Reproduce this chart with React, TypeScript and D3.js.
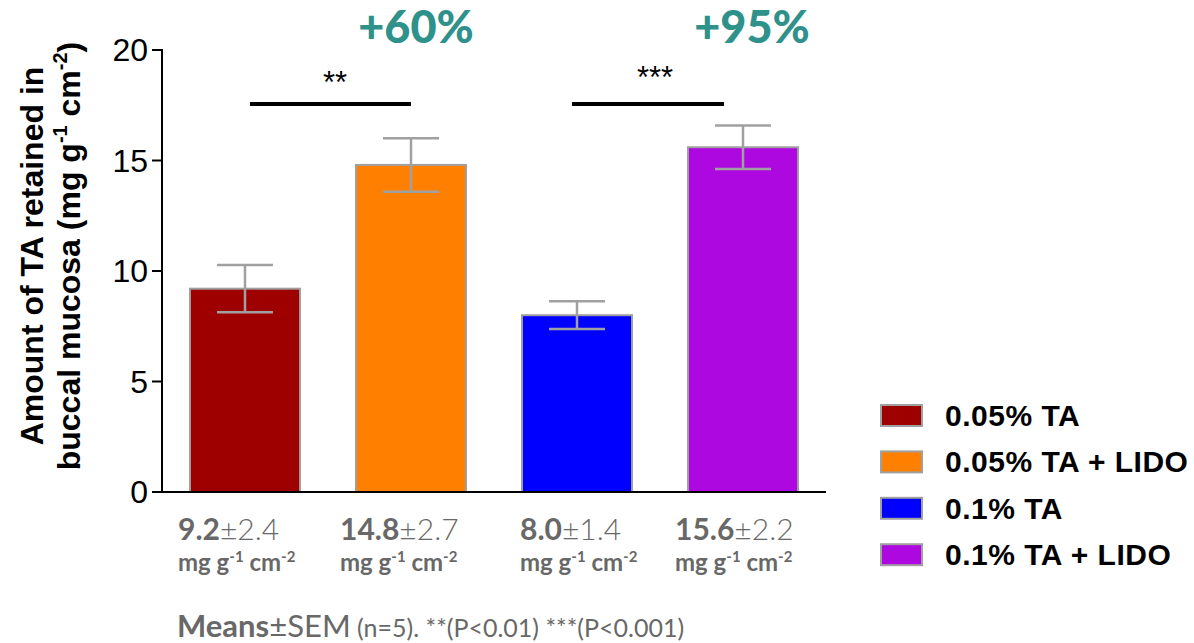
import React from "react";
import * as d3 from "d3";

const categories = ["0.05% TA", "0.05% TA + LIDO", "0.1% TA", "0.1% TA + LIDO"];
const means = [9.2, 14.8, 8.0, 15.6];
const sems = [1.07, 1.21, 0.63, 0.98];
const sds = ["2.4", "2.7", "1.4", "2.2"];
const meanLabels = ["9.2", "14.8", "8.0", "15.6"];
const colors = ["#9e0000", "#ff8000", "#0000ff", "#ad08e0"];
const yTicks = [0, 5, 10, 15, 20];
const increases = ["+60%", "+95%"];
const stars = ["**", "***"];

const W = 1194;
const H = 643;
const left = 162;
const right = 826;
const top = 50;
const bottom = 492;

const valueLabelLeft = [178, 340, 520, 675];

export default function App() {
  const x = d3
    .scaleBand<string>()
    .domain(categories)
    .range([left, right])
    .paddingInner(0.337)
    .paddingOuter(0.1685);
  const y = d3.scaleLinear().domain([0, 20]).range([bottom, top]);
  const bw = x.bandwidth();
  const cx = (i: number) => (x(categories[i]) as number) + bw / 2;
  const gray = "#a0a0a0";
  const capHalf = 28;
  const labelGray = "#686868";
  const geo = "Lato, 'Open Sans', sans-serif";
  const arial = "'Liberation Sans', Arial, sans-serif";

  const brackets = [
    { x1: cx(0) + 5, x2: cx(1), starX: cx(0) + 90 },
    { x1: cx(2) - 5, x2: cx(3) - 19, starX: cx(2) + 78 },
  ];

  return (
    <svg
      width={W}
      height={H}
      style={{ position: "absolute", left: 0, top: 0, background: "#fff" }}
    >
      {/* bars */}
      {categories.map((c, i) => (
        <rect
          key={c}
          x={x(c)}
          y={y(means[i])}
          width={bw}
          height={y(0) - y(means[i])}
          fill={colors[i]}
          stroke={gray}
          strokeWidth={2}
        />
      ))}
      {/* error bars */}
      {categories.map((c, i) => (
        <g key={"e" + c} stroke={gray} strokeWidth={2.5}>
          <line x1={cx(i)} x2={cx(i)} y1={y(means[i] + sems[i])} y2={y(means[i] - sems[i])} />
          <line x1={cx(i) - capHalf} x2={cx(i) + capHalf} y1={y(means[i] + sems[i])} y2={y(means[i] + sems[i])} />
          <line x1={cx(i) - capHalf} x2={cx(i) + capHalf} y1={y(means[i] - sems[i])} y2={y(means[i] - sems[i])} />
        </g>
      ))}
      {/* axes */}
      <line x1={left} x2={left} y1={y(20) - 1} y2={bottom + 1} stroke="#000" strokeWidth={2} />
      <line x1={left - 1} x2={right} y1={bottom} y2={bottom} stroke="#000" strokeWidth={2} />
      {yTicks.map((t) => (
        <g key={t}>
          <line x1={left - 10} x2={left} y1={y(t)} y2={y(t)} stroke="#000" strokeWidth={2} />
          <text
            x={left - 14}
            y={y(t) + 11}
            textAnchor="end"
            fontFamily={arial}
            fontSize={32}
            fill="#000"
          >
            {t}
          </text>
        </g>
      ))}
      {/* y title */}
      <g transform="translate(43,256) rotate(-90)" fontFamily={arial} fontWeight="bold" fontSize={32} fill="#000">
        <text x={0} y={0} textAnchor="middle">Amount of TA retained in</text>
        <text x={0} y={37} textAnchor="middle">
          buccal mucosa (mg g
          <tspan fontSize={20} dy={-13}>-1</tspan>
          <tspan dy={13}> cm</tspan>
          <tspan fontSize={20} dy={-13}>-2</tspan>
          <tspan dy={13}>)</tspan>
        </text>
      </g>
      {/* significance brackets */}
      {brackets.map((b, i) => (
        <g key={"b" + i}>
          <line x1={b.x1} x2={b.x2} y1={104} y2={104} stroke="#000" strokeWidth={4} />
          <text x={b.starX} y={i === 0 ? 93 : 88} textAnchor="middle" fontFamily={arial} fontSize={31} fill="#000">
            {stars[i]}
          </text>
        </g>
      ))}
      {/* percentage increases */}
      {increases.map((t, i) => (
        <text
          key={t}
          x={cx(i * 2 + 1) + (i === 0 ? 5 : 9)}
          y={43}
          textAnchor="middle"
          fontFamily={geo}
          fontWeight={900}
          fontSize={45}
          fill="#2e918a"
        >
          {t}
        </text>
      ))}
      {/* value labels */}
      {categories.map((c, i) => (
        <g key={"v" + c} fill={labelGray} fontFamily={geo}>
          <text x={valueLabelLeft[i]} y={540} fontSize={30}>
            <tspan fontWeight="bold">{meanLabels[i]}</tspan>
            <tspan fontWeight={300}>±{sds[i]}</tspan>
          </text>
          <text x={valueLabelLeft[i]} y={571} fontSize={24} fontWeight="bold">
            mg g<tspan fontSize={15} dy={-9}>-1</tspan>
            <tspan dy={9}> cm</tspan>
            <tspan fontSize={15} dy={-9}>-2</tspan>
          </text>
        </g>
      ))}
      {/* legend */}
      {categories.map((c, i) => (
        <g key={"l" + c}>
          <rect x={881} y={405 + i * 46.4} width={41} height={21} fill={colors[i]} stroke={gray} strokeWidth={2} />
          <text x={945} y={426 + i * 46.4} fontFamily={arial} fontWeight="bold" fontSize={30} letterSpacing={0.5} fill="#000">
            {c}
          </text>
        </g>
      ))}
      {/* footer */}
      <text x={177} y={637} fill={labelGray} fontFamily={geo}>
        <tspan fontWeight="bold" fontSize={31}>Means</tspan>
        <tspan fontWeight={400} fontSize={31}>±SEM</tspan>
        <tspan fontSize={25}> (n=5). **(P&lt;0.01) ***(P&lt;0.001)</tspan>
      </text>
    </svg>
  );
}
